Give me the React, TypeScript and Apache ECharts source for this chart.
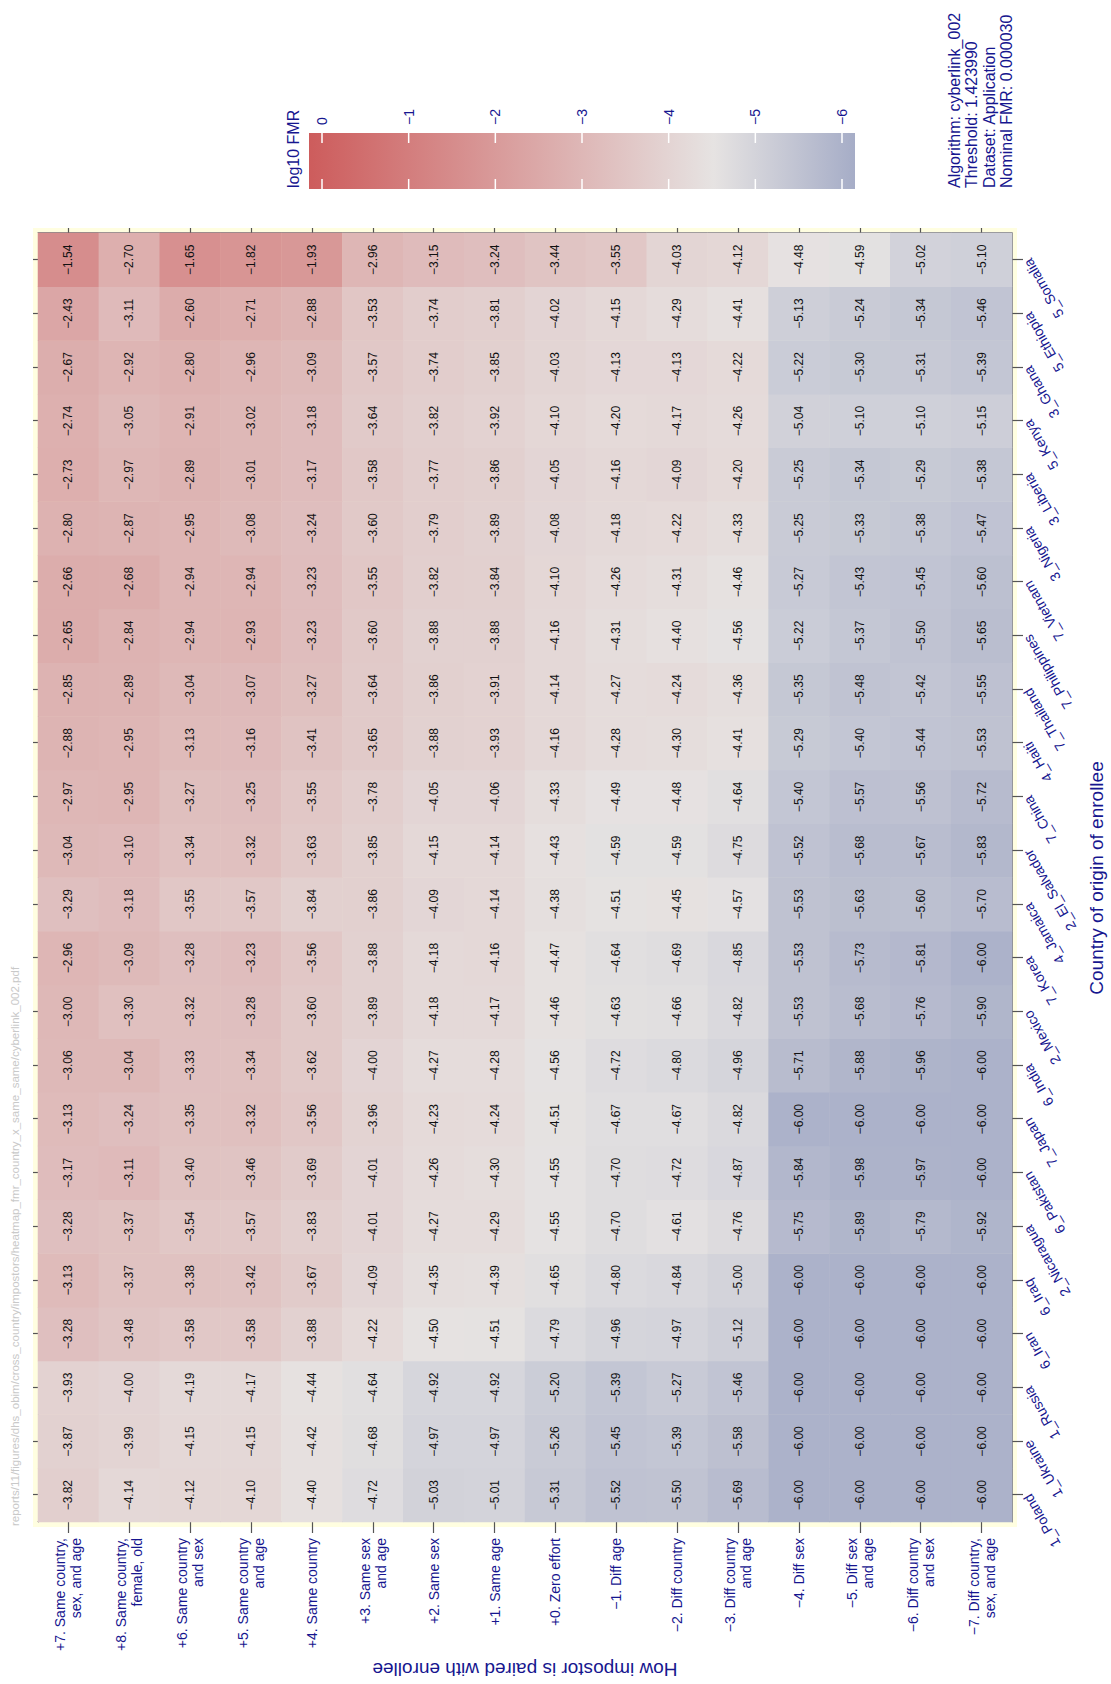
import React, { useEffect, useRef } from "react";
import * as echarts from "echarts";

// Countries (x axis, left to right in the unrotated chart)
const countries = [
  "1_Poland", "1_Ukraine", "1_Russia", "6_Iran", "6_Iraq", "2_Nicaragua",
  "6_Pakistan", "7_Japan", "6_India", "2_Mexico", "7_Korea", "4_Jamaica",
  "2_El_Salvador", "7_China", "4_Haiti", "7_Thailand", "7_Philippines",
  "7_Vietnam", "3_Nigeria", "3_Liberia", "5_Kenya", "3_Ghana", "5_Ethiopia",
  "5_Somalia",
];

// Impostor pairing (y axis, top to bottom)
const pairings = [
  "+7. Same country,\nsex, and age",
  "+8. Same country,\nfemale, old",
  "+6. Same country\nand sex",
  "+5. Same country\nand age",
  "+4. Same country",
  "+3. Same sex\nand age",
  "+2. Same sex",
  "+1. Same age",
  "+0. Zero effort",
  "\u22121. Diff age",
  "\u22122. Diff country",
  "\u22123. Diff country\nand age",
  "\u22124. Diff sex",
  "\u22125. Diff sex\nand age",
  "\u22126. Diff country\nand sex",
  "\u22127. Diff country,\nsex, and age",
];

// log10 FMR per country, in pairing order
const poland = [-3.82, -4.14, -4.12, -4.10, -4.40, -4.72, -5.03, -5.01, -5.31, -5.52, -5.50, -5.69, -6.00, -6.00, -6.00, -6.00];
const ukraine = [-3.87, -3.99, -4.15, -4.15, -4.42, -4.68, -4.97, -4.97, -5.26, -5.45, -5.39, -5.58, -6.00, -6.00, -6.00, -6.00];
const russia = [-3.93, -4.00, -4.19, -4.17, -4.44, -4.64, -4.92, -4.92, -5.20, -5.39, -5.27, -5.46, -6.00, -6.00, -6.00, -6.00];
const iran = [-3.28, -3.48, -3.58, -3.58, -3.88, -4.22, -4.50, -4.51, -4.79, -4.96, -4.97, -5.12, -6.00, -6.00, -6.00, -6.00];
const iraq = [-3.13, -3.37, -3.38, -3.42, -3.67, -4.09, -4.35, -4.39, -4.65, -4.80, -4.84, -5.00, -6.00, -6.00, -6.00, -6.00];
const nicaragua = [-3.28, -3.37, -3.54, -3.57, -3.83, -4.01, -4.27, -4.29, -4.55, -4.70, -4.61, -4.76, -5.75, -5.89, -5.79, -5.92];
const pakistan = [-3.17, -3.11, -3.40, -3.46, -3.69, -4.01, -4.26, -4.30, -4.55, -4.70, -4.72, -4.87, -5.84, -5.98, -5.97, -6.00];
const japan = [-3.13, -3.24, -3.35, -3.32, -3.56, -3.96, -4.23, -4.24, -4.51, -4.67, -4.67, -4.82, -6.00, -6.00, -6.00, -6.00];
const india = [-3.06, -3.04, -3.33, -3.34, -3.62, -4.00, -4.27, -4.28, -4.56, -4.72, -4.80, -4.96, -5.71, -5.88, -5.96, -6.00];
const mexico = [-3.00, -3.30, -3.32, -3.28, -3.60, -3.89, -4.18, -4.17, -4.46, -4.63, -4.66, -4.82, -5.53, -5.68, -5.76, -5.90];
const korea = [-2.96, -3.09, -3.28, -3.23, -3.56, -3.88, -4.18, -4.16, -4.47, -4.64, -4.69, -4.85, -5.53, -5.73, -5.81, -6.00];
const jamaica = [-3.29, -3.18, -3.55, -3.57, -3.84, -3.86, -4.09, -4.14, -4.38, -4.51, -4.45, -4.57, -5.53, -5.63, -5.60, -5.70];
const elSalvador = [-3.04, -3.10, -3.34, -3.32, -3.63, -3.85, -4.15, -4.14, -4.43, -4.59, -4.59, -4.75, -5.52, -5.68, -5.67, -5.83];
const china = [-2.97, -2.95, -3.27, -3.25, -3.55, -3.78, -4.05, -4.06, -4.33, -4.49, -4.48, -4.64, -5.40, -5.57, -5.56, -5.72];
const haiti = [-2.88, -2.95, -3.13, -3.16, -3.41, -3.65, -3.88, -3.93, -4.16, -4.28, -4.30, -4.41, -5.29, -5.40, -5.44, -5.53];
const thailand = [-2.85, -2.89, -3.04, -3.07, -3.27, -3.64, -3.86, -3.91, -4.14, -4.27, -4.24, -4.36, -5.35, -5.48, -5.42, -5.55];
const philippines = [-2.65, -2.84, -2.94, -2.93, -3.23, -3.60, -3.88, -3.88, -4.16, -4.31, -4.40, -4.56, -5.22, -5.37, -5.50, -5.65];
const vietnam = [-2.66, -2.68, -2.94, -2.94, -3.23, -3.55, -3.82, -3.84, -4.10, -4.26, -4.31, -4.46, -5.27, -5.43, -5.45, -5.60];
const nigeria = [-2.80, -2.87, -2.95, -3.08, -3.24, -3.60, -3.79, -3.89, -4.08, -4.18, -4.22, -4.33, -5.25, -5.33, -5.38, -5.47];
const liberia = [-2.73, -2.97, -2.89, -3.01, -3.17, -3.58, -3.77, -3.86, -4.05, -4.16, -4.09, -4.20, -5.25, -5.34, -5.29, -5.38];
const kenya = [-2.74, -3.05, -2.91, -3.02, -3.18, -3.64, -3.82, -3.92, -4.10, -4.20, -4.17, -4.26, -5.04, -5.10, -5.10, -5.15];
const ghana = [-2.67, -2.92, -2.80, -2.96, -3.09, -3.57, -3.74, -3.85, -4.03, -4.13, -4.13, -4.22, -5.22, -5.30, -5.31, -5.39];
const ethiopia = [-2.43, -3.11, -2.60, -2.71, -2.88, -3.53, -3.74, -3.81, -4.02, -4.15, -4.29, -4.41, -5.13, -5.24, -5.34, -5.46];
const somalia = [-1.54, -2.70, -1.65, -1.82, -1.93, -2.96, -3.15, -3.24, -3.44, -3.55, -4.03, -4.12, -4.48, -4.59, -5.02, -5.10];

const countryValues = [
  poland, ukraine, russia, iran, iraq, nicaragua, pakistan, japan, india,
  mexico, korea, jamaica, elSalvador, china, haiti, thailand, philippines,
  vietnam, nigeria, liberia, kenya, ghana, ethiopia, somalia,
];

const colorbarTicks = [0, -1, -2, -3, -4, -5, -6];
const infoLines = [
  "Algorithm: cyberlink_002",
  "Threshold: 1.423990",
  "Dataset: Application",
  "Nominal FMR: 0.000030",
];

// colour scale
const VMIN = -6.15;
const VMAX = 0.15;
const VMID = -4.52;
const RED = [205, 92, 92];
const MID = [230, 227, 226];
const BLUE = [166, 173, 199];

function colorAt(v: number): string {
  let a: number[], b: number[], t: number;
  if (v >= VMID) {
    a = MID; b = RED; t = (v - VMID) / (VMAX - VMID);
  } else {
    a = BLUE; b = MID; t = (v - VMIN) / (VMID - VMIN);
  }
  t = Math.max(0, Math.min(1, t));
  const c = a.map((x, i) => Math.round(x + (b[i] - x) * t));
  return `rgb(${c[0]},${c[1]},${c[2]})`;
}

const NAVY = "#16168f";
const FONT = "'Liberation Sans', Arial, Helvetica, sans-serif";

function fmt(v: number): string {
  return (v < 0 ? "\u2212" : "") + Math.abs(v).toFixed(2);
}

export default function App() {
  const ref = useRef<HTMLDivElement>(null);

  useEffect(() => {
    if (!ref.current) return;
    const chart = echarts.init(ref.current, undefined, {
      renderer: "svg",
      width: 1684,
      height: 1111,
    });

    const data: number[][] = [];
    countryValues.forEach((vals, xi) => {
      vals.forEach((v, yi) => data.push([xi, yi, v]));
    });

    const nColors = 64;
    const scaleColors: string[] = [];
    for (let i = 0; i < nColors; i++) {
      scaleColors.push(colorAt(VMIN + ((VMAX - VMIN) * i) / (nColors - 1)));
    }

    // colour bar geometry (unrotated chart coords)
    const cbX = 1495, cbY = 309, cbW = 56, cbH = 546;
    const yOf = (v: number) => cbY + ((VMAX - v) / (VMAX - VMIN)) * cbH;

    const graphics: any[] = [
      {
        type: "rect",
        shape: { x: cbX, y: cbY, width: cbW, height: cbH },
        style: {
          fill: new echarts.graphic.LinearGradient(0, 0, 0, 1, [
            { offset: 0, color: colorAt(VMAX) },
            { offset: (VMAX - VMID) / (VMAX - VMIN), color: colorAt(VMID) },
            { offset: 1, color: colorAt(VMIN) },
          ]),
        },
      },
      {
        type: "text",
        x: cbX + 1,
        y: 293,
        style: {
          text: "log10 FMR",
          fontSize: 16,
          fontFamily: FONT,
          fill: NAVY,
          align: "left",
          verticalAlign: "middle",
        },
      },
      {
        type: "text",
        x: 158,
        y: 15,
        style: {
          text: "reports/11/figures/dhs_obim/cross_country/impostors/heatmap_fmr_country_x_same_same/cyberlink_002.pdf",
          fontSize: 11.5,
          fontFamily: FONT,
          fill: "#c9c9c9",
          align: "left",
          verticalAlign: "middle",
        },
      },
      {
        type: "text",
        x: 806,
        y: 1096,
        style: {
          text: "Country of origin of enrollee",
          fontSize: 19,
          fontFamily: FONT,
          fill: NAVY,
          align: "center",
          verticalAlign: "middle",
        },
      },
      {
        type: "text",
        x: 15,
        y: 525,
        rotation: Math.PI / 2,
        style: {
          text: "How impostor is paired with enrollee",
          fontSize: 19,
          fontFamily: FONT,
          fill: NAVY,
          align: "center",
          verticalAlign: "middle",
        },
      },
    ];

    colorbarTicks.forEach((v) => {
      const y = yOf(v);
      graphics.push({
        type: "line",
        shape: { x1: cbX, y1: y, x2: cbX + 10, y2: y },
        style: { stroke: "#ffffff", lineWidth: 1.5 },
      });
      graphics.push({
        type: "line",
        shape: { x1: cbX + cbW - 10, y1: y, x2: cbX + cbW, y2: y },
        style: { stroke: "#ffffff", lineWidth: 1.5 },
      });
      graphics.push({
        type: "text",
        x: cbX + cbW + 8,
        y: y,
        style: {
          text: v === 0 ? "0" : "\u2212" + Math.abs(v),
          fontSize: 14,
          fontFamily: FONT,
          fill: NAVY,
          align: "left",
          verticalAlign: "middle",
        },
      });
    });

    infoLines.forEach((t, i) => {
      graphics.push({
        type: "text",
        x: 1496,
        y: 954 + i * 17.6,
        style: {
          text: t,
          fontSize: 16,
          fontFamily: FONT,
          fill: NAVY,
          align: "left",
          verticalAlign: "middle",
        },
      });
    });

    const tickDark = { color: "#555555", width: 1.2 };

    chart.setOption({
      animation: false,
      backgroundColor: "#ffffff",
      grid: {
        left: 162,
        top: 38,
        width: 1289,
        height: 974,
        show: true,
        backgroundColor: "#fffee0",
        borderColor: "#fffee0",
        borderWidth: 10,
      },
      xAxis: [
        {
          type: "category",
          data: countries,
          position: "bottom",
          axisLine: { show: true, lineStyle: { color: "#8a8a8a", width: 1 } },
          axisTick: { show: true, alignWithLabel: true, interval: 0, length: 11, lineStyle: tickDark },
          axisLabel: {
            interval: 0,
            rotate: 30,
            margin: 15,
            fontSize: 14,
            fontFamily: FONT,
            color: NAVY,
          },
          splitLine: { show: false },
        },
        {
          type: "category",
          data: countries,
          position: "top",
          axisLine: { show: true, lineStyle: { color: "#8a8a8a", width: 1 } },
          axisTick: { show: true, alignWithLabel: true, interval: 0, length: 5, lineStyle: tickDark },
          axisLabel: { show: false },
          splitLine: { show: false },
        },
      ],
      yAxis: [
        {
          type: "category",
          data: pairings,
          inverse: true,
          position: "left",
          axisLine: { show: true, lineStyle: { color: "#8a8a8a", width: 1 } },
          axisTick: { show: true, alignWithLabel: true, interval: 0, length: 11, lineStyle: tickDark },
          axisLabel: {
            interval: 0,
            margin: 16,
            fontSize: 14,
            lineHeight: 16,
            fontFamily: FONT,
            color: NAVY,
            align: "right",
          },
          splitLine: { show: false },
        },
        {
          type: "category",
          data: pairings,
          inverse: true,
          position: "right",
          axisLine: { show: true, lineStyle: { color: "#8a8a8a", width: 1 } },
          axisTick: { show: true, alignWithLabel: true, interval: 0, length: 5, lineStyle: tickDark },
          axisLabel: { show: false },
          splitLine: { show: false },
        },
      ],
      visualMap: {
        type: "continuous",
        show: false,
        min: VMIN,
        max: VMAX,
        dimension: 2,
        seriesIndex: 0,
        inRange: { color: scaleColors },
      },
      series: [
        {
          type: "heatmap",
          xAxisIndex: 0,
          yAxisIndex: 0,
          data: data,
          itemStyle: { borderWidth: 0 },
          emphasis: { disabled: true },
          label: {
            show: true,
            formatter: (p: any) => fmt(p.value[2]),
            fontSize: 12,
            fontFamily: FONT,
            color: "#111111",
          },
        },
      ],
      graphic: { elements: graphics },
    });

    return () => {
      chart.dispose();
    };
  }, []);

  return (
    <div
      style={{
        position: "absolute",
        left: 0,
        top: 0,
        width: 1111,
        height: 1684,
        overflow: "hidden",
        background: "#ffffff",
      }}
    >
      <div
        ref={ref}
        style={{
          position: "absolute",
          left: 0,
          top: 0,
          width: 1684,
          height: 1111,
          transformOrigin: "0 0",
          transform: "translateY(1684px) rotate(-90deg)",
        }}
      />
    </div>
  );
}
